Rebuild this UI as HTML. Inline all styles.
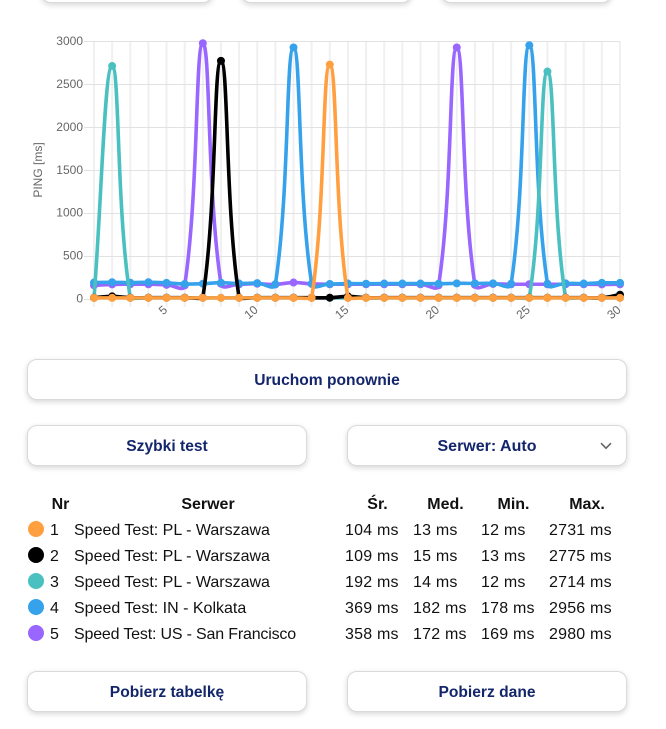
<!DOCTYPE html>
<html lang="pl">
<head>
<meta charset="utf-8">
<title>Ping chart</title>
<style>
html,body{margin:0;padding:0;background:#fff;}
body{width:666px;height:729px;position:relative;overflow:hidden;font-family:"Liberation Sans","DejaVu Sans",sans-serif;color:#111;}
.btn{position:absolute;box-sizing:border-box;background:#fff;border:1px solid #dadada;border-radius:10px;box-shadow:0 2px 6px rgba(0,0,0,.16);color:#14266b;font-weight:bold;font-size:15.6px;display:flex;align-items:center;justify-content:center;height:41px;padding-top:2px;}
.t{position:absolute;white-space:nowrap;font-size:16px;line-height:20px;height:20px;margin-top:1px;}
.v{letter-spacing:.2px;}
.h{font-weight:bold;transform:translateX(-50%);}
.dot{position:absolute;width:16px;height:16px;border-radius:50%;left:28px;}
svg{position:absolute;left:0;top:0;}
</style>
</head>
<body>
<div class="btn" style="left:41px;top:-38px;width:172px;"></div>
<div class="btn" style="left:241px;top:-38px;width:171px;"></div>
<div class="btn" style="left:441px;top:-38px;width:171px;"></div>

<svg id="chart" width="666" height="340" viewBox="0 0 666 340"></svg>

<div class="btn" style="left:27px;top:359px;width:600px;">Uruchom ponownie</div>
<div class="btn" style="left:27px;top:425px;width:280px;">Szybki test</div>
<div class="btn" style="left:347px;top:425px;width:280px;font-size:16px;">Serwer: Auto
  <svg width="12" height="8" viewBox="0 0 12 8" style="left:252px;top:16px;"><path d="M1 1.2 L6 6.2 L11 1.2" fill="none" stroke="#666" stroke-width="1.6"/></svg>
</div>

<div>
  <span class="t h" style="left:60.5px;top:494px;">Nr</span>
  <span class="t h" style="left:208px;top:494px;">Serwer</span>
  <span class="t h" style="left:377.5px;top:494px;">Śr.</span>
  <span class="t h" style="left:445.5px;top:494px;">Med.</span>
  <span class="t h" style="left:513.5px;top:494px;">Min.</span>
  <span class="t h" style="left:587px;top:494px;">Max.</span>

  <span class="dot" style="top:521px;background:#ff9f40;"></span>
  <span class="t" style="left:50px;top:520px;">1</span>
  <span class="t" style="left:74px;top:520px;">Speed Test: PL - Warszawa</span>
  <span class="t v" style="left:345px;top:520px;">104 ms</span>
  <span class="t v" style="left:413px;top:520px;">13 ms</span>
  <span class="t v" style="left:481px;top:520px;">12 ms</span>
  <span class="t v" style="left:549px;top:520px;">2731 ms</span>

  <span class="dot" style="top:547px;background:#000;"></span>
  <span class="t" style="left:50px;top:546px;">2</span>
  <span class="t" style="left:74px;top:546px;">Speed Test: PL - Warszawa</span>
  <span class="t v" style="left:345px;top:546px;">109 ms</span>
  <span class="t v" style="left:413px;top:546px;">15 ms</span>
  <span class="t v" style="left:481px;top:546px;">13 ms</span>
  <span class="t v" style="left:549px;top:546px;">2775 ms</span>

  <span class="dot" style="top:573px;background:#4bc0c0;"></span>
  <span class="t" style="left:50px;top:572px;">3</span>
  <span class="t" style="left:74px;top:572px;">Speed Test: PL - Warszawa</span>
  <span class="t v" style="left:345px;top:572px;">192 ms</span>
  <span class="t v" style="left:413px;top:572px;">14 ms</span>
  <span class="t v" style="left:481px;top:572px;">12 ms</span>
  <span class="t v" style="left:549px;top:572px;">2714 ms</span>

  <span class="dot" style="top:599px;background:#36a2eb;"></span>
  <span class="t" style="left:50px;top:598px;">4</span>
  <span class="t" style="left:74px;top:598px;">Speed Test: IN - Kolkata</span>
  <span class="t v" style="left:345px;top:598px;">369 ms</span>
  <span class="t v" style="left:413px;top:598px;">182 ms</span>
  <span class="t v" style="left:481px;top:598px;">178 ms</span>
  <span class="t v" style="left:549px;top:598px;">2956 ms</span>

  <span class="dot" style="top:625px;background:#9966ff;"></span>
  <span class="t" style="left:50px;top:624px;">5</span>
  <span class="t" style="left:74px;top:624px;letter-spacing:-.18px;">Speed Test: US - San Francisco</span>
  <span class="t v" style="left:345px;top:624px;">358 ms</span>
  <span class="t v" style="left:413px;top:624px;">172 ms</span>
  <span class="t v" style="left:481px;top:624px;">169 ms</span>
  <span class="t v" style="left:549px;top:624px;">2980 ms</span>
</div>

<div class="btn" style="left:27px;top:671px;width:280px;">Pobierz tabelkę</div>
<div class="btn" style="left:347px;top:671px;width:280px;">Pobierz dane</div>

<script>
const categories = [1,2,3,4,5,6,7,8,9,10,11,12,13,14,15,16,17,18,19,20,21,22,23,24,25,26,27,28,29,30];
const yTicks = [0,500,1000,1500,2000,2500,3000];
const xTickLabels = [5,10,15,20,25,30];
const series1 = [13,13,13,13,13,13,13,13,13,13,13,13,13,2731,13,13,13,13,13,13,13,13,13,13,13,13,13,13,13,13];
const series2 = [15,30,15,15,15,15,15,2775,15,15,15,15,15,15,30,15,15,15,15,15,15,15,15,15,15,15,15,15,15,50];
const series3 = [14,2714,14,14,14,14,14,14,14,14,14,14,14,14,14,14,14,14,14,14,14,14,14,14,14,2650,14,14,14,14];
const series4 = [192,195,190,195,188,175,178,190,180,185,172,2930,178,175,180,178,180,180,180,178,182,182,182,178,2956,178,182,180,188,188];
const series5 = [160,170,172,172,165,158,2980,178,172,178,170,192,175,172,172,172,172,172,172,160,2930,165,175,172,172,172,172,172,170,172];

const svgNS = 'http://www.w3.org/2000/svg';
const svg = document.getElementById('chart');
const plotLeft = 94, plotRight = 620, plotTop = 41.5, plotBottom = 299;
const yMax = 3000;
function xScale(i){ return plotLeft + (plotRight - plotLeft) * i / (categories.length - 1); }
function yScale(v){ return plotBottom - (plotBottom - plotTop) * v / yMax; }
function make(tag){ return document.createElementNS(svgNS, tag); }
function clampY(y){ return Math.max(plotTop, Math.min(plotBottom, y)); }

function splinePath(values){
  const pts = values.map(function(v, i){ return {x: xScale(i), y: yScale(v)}; });
  const t = 0.42;
  const ctrl = pts.map(function(p, i){
    const a = pts[Math.max(i - 1, 0)], b = pts[Math.min(i + 1, pts.length - 1)];
    const d1 = Math.hypot(p.x - a.x, p.y - a.y), d2 = Math.hypot(b.x - p.x, b.y - p.y);
    const total = (d1 + d2) || 1;
    const fa = t * d1 / total, fb = t * d2 / total;
    return {
      px: p.x - fa * (b.x - a.x), py: clampY(p.y - fa * (b.y - a.y)),
      nx: p.x + fb * (b.x - a.x), ny: clampY(p.y + fb * (b.y - a.y))
    };
  });
  let d = 'M' + pts[0].x + ' ' + pts[0].y;
  for (let i = 1; i < pts.length; i++) {
    d += ' C' + ctrl[i-1].nx.toFixed(2) + ' ' + ctrl[i-1].ny.toFixed(2) + ' ' + ctrl[i].px.toFixed(2) + ' ' + ctrl[i].py.toFixed(2) + ' ' + pts[i].x.toFixed(2) + ' ' + pts[i].y.toFixed(2);
  }
  return d;
}

categories.forEach(function(c, i){
  const g = make('line');
  
  
  g.setAttribute('x1', xScale(i)); g.setAttribute('x2', xScale(i));
  g.setAttribute('y1', plotTop); g.setAttribute('y2', plotBottom + 8);
  g.setAttribute('stroke', '#f0f0f0'); g.setAttribute('stroke-width', '2');
  svg.appendChild(g);
});

yTicks.forEach(function(v){
  const yy = Math.floor(yScale(v)) + 0.5;
  const g = make('line');
  
  
  g.setAttribute('x1', plotLeft - 10); g.setAttribute('x2', plotRight);
  g.setAttribute('y1', yy); g.setAttribute('y2', yy);
  g.setAttribute('stroke', '#e2e2e2'); g.setAttribute('stroke-width', '1');
  svg.appendChild(g);
  const t = make('text');
  
  
  t.setAttribute('x', plotLeft - 11); t.setAttribute('y', yScale(v) + 3.5);
  t.setAttribute('text-anchor', 'end');
  t.setAttribute('font-size', '12'); t.setAttribute('fill', '#666');
  t.setAttribute('font-family', '"Liberation Sans", sans-serif');
  t.textContent = v;
  svg.appendChild(t);
});

xTickLabels.forEach(function(v){
  const x = xScale(categories.indexOf(v)) - 1;
  const t = make('text');
  
  
  t.setAttribute('x', x); t.setAttribute('y', 312);
  t.setAttribute('text-anchor', 'end');
  t.setAttribute('font-size', '12'); t.setAttribute('fill', '#666');
  t.setAttribute('font-family', '"Liberation Sans", sans-serif');
  t.setAttribute('transform', 'rotate(-40 ' + x + ' 308)');
  t.textContent = v;
  svg.appendChild(t);
});

const yTitle = make('text');


yTitle.setAttribute('x', 42); yTitle.setAttribute('y', 170);
yTitle.setAttribute('text-anchor', 'middle');
yTitle.setAttribute('font-size', '12'); yTitle.setAttribute('fill', '#666');
yTitle.setAttribute('font-family', '"Liberation Sans", sans-serif');
yTitle.setAttribute('transform', 'rotate(-90 42 170)');
yTitle.textContent = 'PING [ms]';
svg.appendChild(yTitle);

function drawSeries(values, color, name){
  const path = make('path');
  
  
  path.setAttribute('d', splinePath(values));
  path.setAttribute('fill', 'none');
  path.setAttribute('stroke', color);
  path.setAttribute('stroke-width', '3.6');
  svg.appendChild(path);
  values.forEach(function(v, i){
    const c = make('circle');
    
    
    c.setAttribute('cx', xScale(i));
    c.setAttribute('cy', yScale(v));
    c.setAttribute('r', '4');
    c.setAttribute('fill', color);
    svg.appendChild(c);
  });
}
drawSeries(series5, '#9966ff', 'series-5');
drawSeries(series4, '#36a2eb', 'series-4');
drawSeries(series3, '#4bc0c0', 'series-3');
drawSeries(series2, '#000000', 'series-2');
drawSeries(series1, '#ff9f40', 'series-1');
</script>
</body>
</html>
